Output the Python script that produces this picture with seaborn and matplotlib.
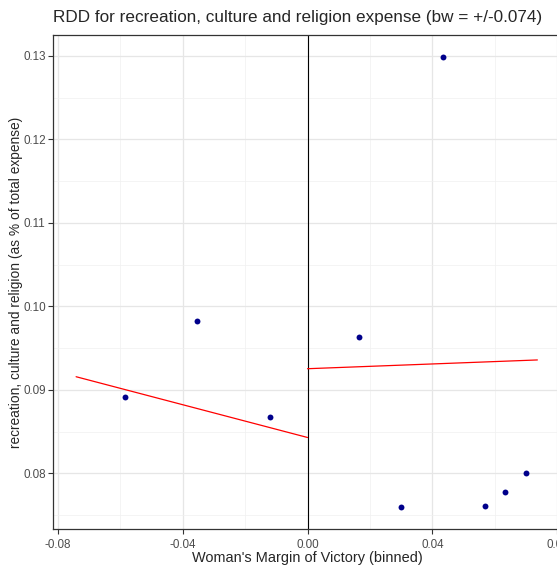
import numpy as np
import pandas as pd
import matplotlib
matplotlib.use("Agg")
import matplotlib.pyplot as plt
import seaborn as sns

# binned means
bin_x = [-0.0585, -0.0353, -0.0119, 0.0165, 0.0299, 0.0434, 0.0567, 0.0633, 0.0701]
bin_y = [0.0891, 0.0982, 0.0868, 0.0963, 0.0760, 0.1299, 0.0761, 0.0777, 0.0800]

# fitted lines on each side of the cutoff
left_x = [-0.0741, 0.0]
left_y = [0.09157, 0.08429]
right_x = [0.0, 0.0736]
right_y = [0.09253, 0.09358]

x_ticks = [-0.08, -0.04, 0.0, 0.04, 0.08]
y_ticks = [0.08, 0.09, 0.10, 0.11, 0.12, 0.13]

sns.set_style("white")
plt.rcParams['font.family'] = ['Liberation Sans', 'DejaVu Sans']

fig = plt.figure(figsize=(5.57, 5.67), dpi=100)
ax = fig.add_axes([0.0957, 0.0665, 0.9128, 0.8723])

pts = pd.DataFrame({"x": bin_x, "y": bin_y})
fit_l = pd.DataFrame({"x": left_x, "y": left_y})
fit_r = pd.DataFrame({"x": right_x, "y": right_y})

ax.axvline(0, color="black", lw=0.8, zorder=2)
sns.lineplot(data=fit_l, x="x", y="y", color="red", lw=0.9, ax=ax, zorder=3)
sns.lineplot(data=fit_r, x="x", y="y", color="red", lw=0.9, ax=ax, zorder=3)
sns.scatterplot(data=pts, x="x", y="y", color="#00008B", s=18, linewidth=0, ax=ax, zorder=4)

ax.set_xlim(-0.0814, 0.0814)
ax.set_ylim(0.07329, 0.13255)
ax.set_xticks(x_ticks)
ax.set_xticklabels([f"{t:.2f}" for t in x_ticks])
ax.set_yticks(y_ticks)
ax.set_yticklabels([f"{t:.2f}" for t in y_ticks])
ax.set_xticks([-0.06, -0.02, 0.02, 0.06], minor=True)
ax.set_yticks([0.075, 0.085, 0.095, 0.105, 0.115, 0.125], minor=True)

ax.grid(True, which="major", color="#E6E6E6", lw=0.9)
ax.grid(True, which="minor", color="#F0F0F0", lw=0.5)
ax.set_axisbelow(True)
for sp in ax.spines.values():
    sp.set_color("#333333")
    sp.set_linewidth(0.9)
ax.tick_params(axis="both", which="major", length=3.5, width=0.8, color="#333333",
               labelcolor="#4D4D4D", labelsize=8.4, pad=2, bottom=True, left=True)
ax.tick_params(axis="x", which="major", pad=3.5)
ax.tick_params(axis="both", which="minor", length=0)

ax.set_xlabel("Woman's Margin of Victory (binned)", fontsize=10.45, labelpad=0)
ax.set_ylabel("recreation, culture and religion (as % of total expense)", fontsize=9.9, labelpad=0)
ax.set_title("RDD for recreation, culture and religion expense (bw = +/-0.074)",
             fontsize=12.3, loc="left", pad=9)

fig.savefig("out.png", dpi=100)
